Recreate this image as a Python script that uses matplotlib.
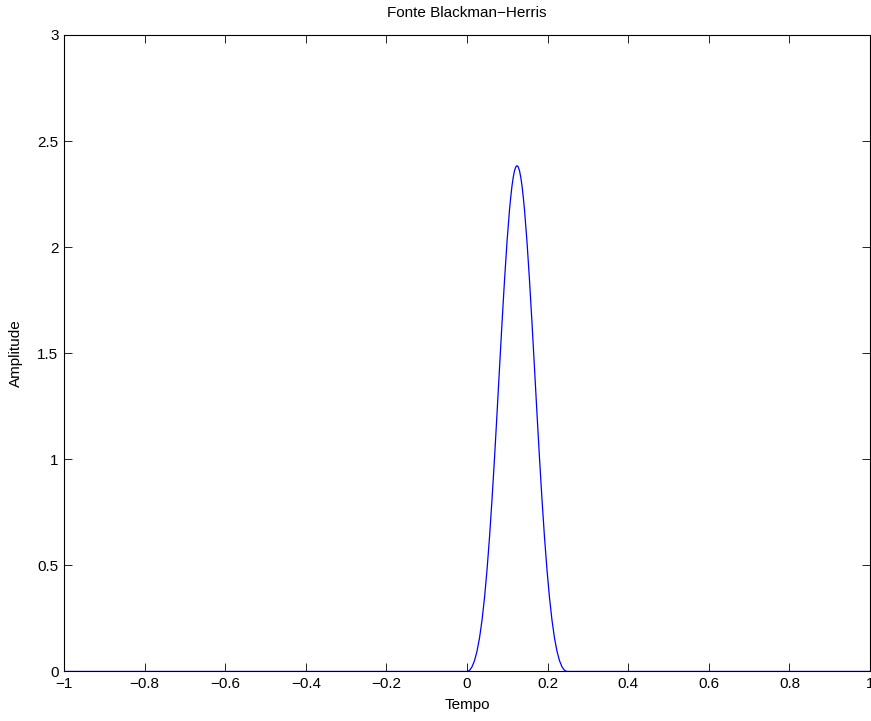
import matplotlib.pyplot as plt
import numpy as np
from matplotlib.ticker import FuncFormatter

plt.rcParams['font.family'] = ['Liberation Sans', 'DejaVu Sans']
plt.rcParams['font.size'] = 11

# pulse samples (tempo, amplitude), zero outside the pulse
t_pulse = [0.0, 0.0062, 0.0124, 0.0186, 0.0248, 0.031, 0.0372, 0.0434, 0.0496, 0.0558,
           0.062, 0.0682, 0.0744, 0.0806, 0.0868, 0.093, 0.0992, 0.1054, 0.1085, 0.1116,
           0.1147, 0.1178, 0.1209, 0.124, 0.1271, 0.1302, 0.1333, 0.1364, 0.1395, 0.1426,
           0.1488, 0.155, 0.1612, 0.1674, 0.1736, 0.1798, 0.186, 0.1922, 0.1984, 0.2046,
           0.2108, 0.217, 0.2232, 0.2294, 0.2356, 0.2418, 0.248]
a_pulse = [0.0, 0.005, 0.022, 0.051, 0.096, 0.158, 0.242, 0.348, 0.479, 0.633,
           0.811, 1.006, 1.215, 1.430, 1.643, 1.844, 2.025, 2.176, 2.237, 2.289,
           2.330, 2.360, 2.378, 2.384, 2.378, 2.360, 2.330, 2.289, 2.237, 2.176,
           2.025, 1.844, 1.643, 1.430, 1.215, 1.006, 0.811, 0.633, 0.479, 0.348,
           0.242, 0.158, 0.096, 0.051, 0.022, 0.005, 0.0]

tempo = [-1.0] + t_pulse + [1.0]
amp = [0.0] + a_pulse + [0.0]


def matlab_fmt(v, pos):
    if abs(v) < 1e-9:
        return '0'
    return ('%g' % round(v, 2)).replace('-', '\u2212')


fig = plt.figure(figsize=(8.71, 7.21), dpi=100)
ax = fig.add_axes([0.0735, 0.0687, 0.9254, 0.8828])
ax.plot(tempo, amp, color='#0000ff', lw=0.9)

ax.set_xlim(-1, 1)
ax.set_ylim(0, 3)
ax.set_xticks(np.arange(-1, 1.01, 0.2))
ax.set_yticks(np.arange(0, 3.01, 0.5))
ax.xaxis.set_major_formatter(FuncFormatter(matlab_fmt))
ax.yaxis.set_major_formatter(FuncFormatter(matlab_fmt))
ax.tick_params(direction='in', length=5.5, width=0.6, top=True, right=True)
ax.tick_params(axis='x', pad=4)
ax.tick_params(axis='y', pad=4)
for s in ax.spines.values():
    s.set_linewidth(0.8)

ax.set_title('Fonte Blackman\u2212Herris', fontsize=11, pad=13)
ax.set_xlabel('Tempo', labelpad=5)
ax.set_ylabel('Amplitude', labelpad=10)

fig.savefig('out.png', dpi=100)
